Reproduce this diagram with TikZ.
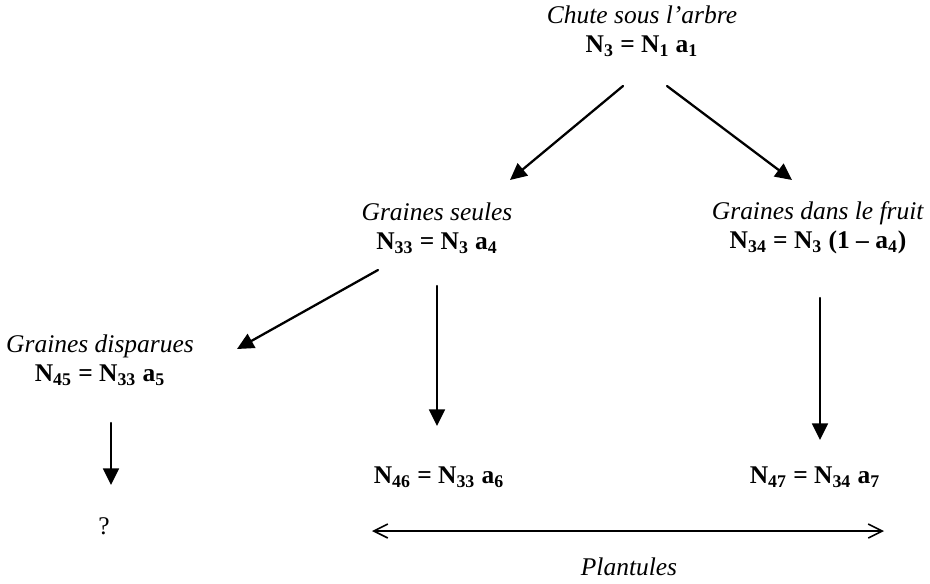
\documentclass[tikz,border=0pt]{standalone}
\usepackage{fontspec}
\setmainfont{Liberation Serif}
\usetikzlibrary{arrows.meta}
\tikzset{
  lbl/.style={align=center, inner sep=0pt, font=\fontsize{14.5}{16.5}\selectfont},
  flow/.style={line width=1.3pt, -{Triangle[length=9.5pt, width=9pt]}},
  span/.style={line width=0.9pt, {Straight Barb[length=8pt, width=8pt]}-{Straight Barb[length=8pt, width=8pt]}}
}
\newcommand{\eq}[1]{\textbf{#1}}
\begin{document}
\begin{tikzpicture}[line cap=round,line join=round,x=0.02cm,y=-0.02cm]
\useasboundingbox (0,0) rectangle (930,583);
% levels
\node[lbl] (arbre) at (642,31) {\textit{Chute sous l'arbre}\\ \eq{N\textsubscript{3} = N\textsubscript{1} a\textsubscript{1}}};
\node[lbl] (seules) at (437,228) {\textit{Graines seules}\\ \eq{N\textsubscript{33} = N\textsubscript{3} a\textsubscript{4}}};
\node[lbl] (fruit) at (818,228) {\textit{Graines dans le fruit}\\ \eq{N\textsubscript{34} = N\textsubscript{3} (1 -- a\textsubscript{4})}};
\node[lbl] (disp) at (100,360) {\textit{Graines disparues}\\ \eq{N\textsubscript{45} = N\textsubscript{33} a\textsubscript{5}}};
\node[lbl] (n46) at (439,477) {\eq{N\textsubscript{46} = N\textsubscript{33} a\textsubscript{6}}};
\node[lbl] (n47) at (815,477) {\eq{N\textsubscript{47} = N\textsubscript{34} a\textsubscript{7}}};
\node[lbl] (inconnu) at (104,526) {?};
\node[lbl] (plant) at (629,567) {\textit{Plantules}};
% arrow ends
\coordinate (a1) at (623,86);
\coordinate (a2) at (510,180);
\coordinate (b1) at (667,86);
\coordinate (b2) at (792,180);
\coordinate (c1) at (378,270);
\coordinate (c2) at (237,349);
\coordinate (d1) at (437,286);
\coordinate (d2) at (437,426);
\coordinate (e1) at (820,298);
\coordinate (e2) at (820,440);
\coordinate (f1) at (111,423);
\coordinate (f2) at (111,485);
\coordinate (g1) at (372,531);
\coordinate (g2) at (884,531);
\draw[flow] (a1) -- (a2);
\draw[flow] (b1) -- (b2);
\draw[flow] (c1) -- (c2);
\draw[flow] (d1) -- (d2);
\draw[flow] (e1) -- (e2);
\draw[flow] (f1) -- (f2);
\draw[span] (g1) -- (g2);
\end{tikzpicture}
\end{document}
